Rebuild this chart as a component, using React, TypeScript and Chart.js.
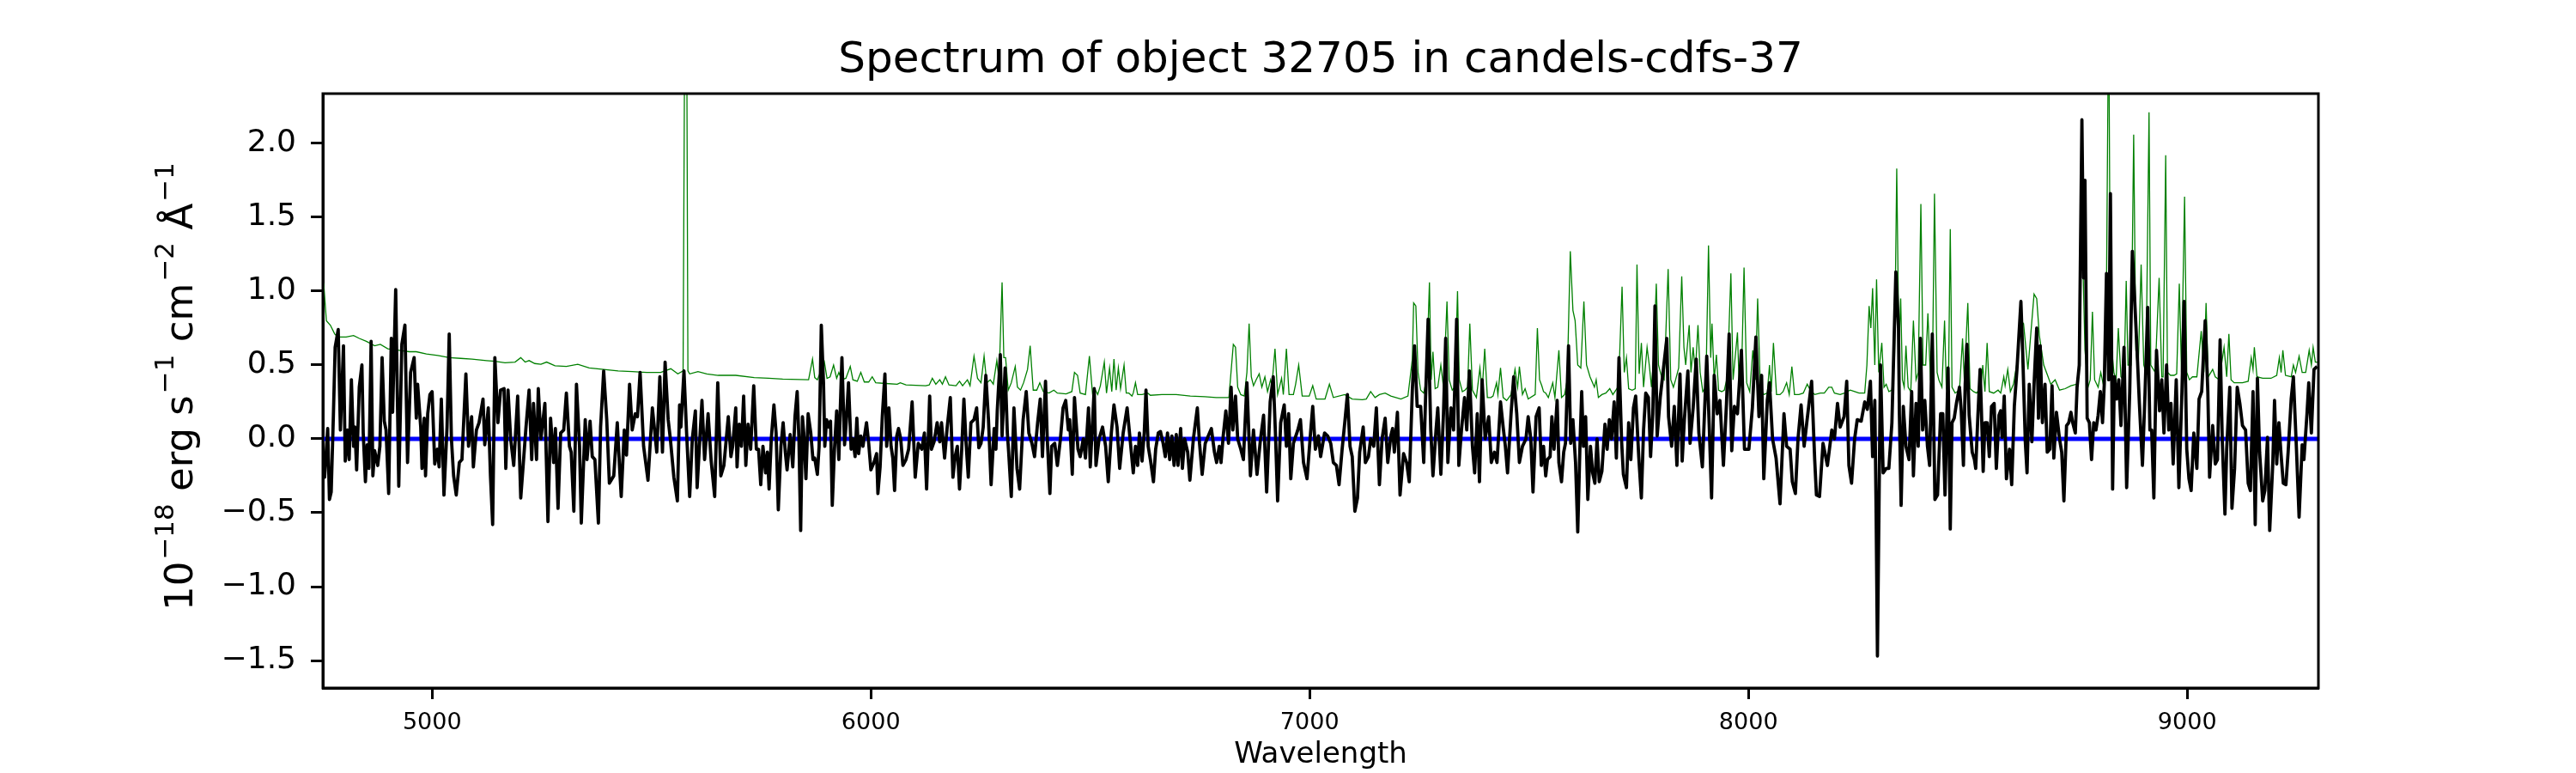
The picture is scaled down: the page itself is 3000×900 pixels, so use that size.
import { useEffect, useRef } from "react";
import { Chart, registerables } from "chart.js";

Chart.register(...registerables);

const titleText = "Spectrum of object 32705 in candels-cdfs-37";
const xLabel = "Wavelength";
// y label pieces: base text and superscripts
const yLabelParts = [
  { text: "10", sup: false },
  { text: "\u221218", sup: true },
  { text: " erg s", sup: false },
  { text: "\u22121", sup: true },
  { text: " cm", sup: false },
  { text: "\u22122", sup: true },
  { text: " \u00C5", sup: false },
  { text: "\u22121", sup: true },
];

const xTicks = [5000, 6000, 7000, 8000, 9000];
const yTicks = [-1.5, -1.0, -0.5, 0.0, 0.5, 1.0, 1.5, 2.0];
const waveRange = [4751, 9299];
const fluxRange = [-1.686, 2.337];

// extracted spectrum, [wavelength, flux]
const spectrum: [number, number][] = [
  [4751, -0.16], [4755, -0.26], [4762, 0.07], [4766, -0.41], [4770, -0.36], [4775, 0.16], [4779, 0.62], [4786, 0.74], [4791, 0.06], [4798, 0.63],
  [4802, -0.15], [4807, 0.06], [4811, -0.14], [4816, 0.4], [4821, -0.05], [4824, 0.08], [4828, -0.21], [4834, 0.35], [4840, 0.5], [4843, 0.04],
  [4848, -0.29], [4852, -0.04], [4856, -0.2], [4861, 0.66], [4865, -0.25], [4869, -0.08], [4876, -0.18], [4881, -0.05], [4886, 0.55], [4891, 0.12],
  [4895, 0.06], [4901, -0.37], [4907, 0.68], [4910, 0.18], [4917, 1.01], [4924, -0.32], [4931, 0.64], [4938, 0.77], [4944, -0.16], [4951, 0.45],
  [4959, 0.55], [4964, 0.14], [4967, 0.37], [4974, 0.08], [4977, -0.2], [4982, 0.14], [4985, -0.25], [4990, 0.17], [4995, 0.3], [5000, 0.32],
  [5006, -0.17], [5012, -0.07], [5016, -0.19], [5021, 0.27], [5027, -0.38], [5034, 0.08], [5039, 0.71], [5044, 0.0], [5049, -0.25], [5055, -0.38],
  [5062, -0.16], [5068, -0.14], [5077, 0.44], [5083, -0.05], [5090, 0.15], [5094, -0.19], [5101, 0.06], [5107, 0.11], [5116, 0.27], [5120, -0.04],
  [5128, 0.21], [5133, -0.25], [5138, -0.58], [5143, 0.55], [5150, 0.11], [5156, 0.33], [5164, 0.34], [5168, -0.2], [5173, 0.33], [5179, 0.0],
  [5186, -0.18], [5195, 0.29], [5202, -0.4], [5208, -0.16], [5214, 0.08], [5221, 0.33], [5227, -0.14], [5231, 0.24], [5238, -0.14], [5242, 0.34],
  [5248, 0.0], [5257, 0.24], [5264, -0.56], [5270, 0.14], [5277, -0.16], [5281, 0.07], [5287, -0.47], [5293, 0.04], [5300, 0.06], [5306, 0.31],
  [5313, -0.05], [5317, -0.09], [5323, -0.49], [5329, 0.37], [5336, -0.05], [5340, -0.57], [5349, 0.13], [5353, -0.14], [5360, 0.12], [5365, -0.12],
  [5371, -0.14], [5379, -0.57], [5384, 0.08], [5391, 0.46], [5398, 0.13], [5404, -0.3], [5414, -0.25], [5422, 0.11], [5427, -0.18], [5431, -0.39],
  [5438, 0.06], [5443, -0.11], [5450, 0.37], [5456, 0.06], [5463, 0.17], [5468, 0.15], [5474, 0.45], [5482, -0.05], [5492, -0.28], [5502, 0.21],
  [5512, -0.09], [5519, 0.42], [5525, -0.09], [5531, 0.52], [5538, 0.13], [5543, 0.0], [5551, -0.26], [5559, -0.42], [5564, 0.23], [5567, 0.08],
  [5574, 0.46], [5580, 0.04], [5587, -0.39], [5593, 0.0], [5600, 0.19], [5604, -0.33], [5615, 0.26], [5621, -0.14], [5629, 0.17], [5636, -0.15],
  [5644, -0.39], [5651, 0.38], [5658, -0.25], [5665, -0.18], [5675, 0.15], [5681, -0.12], [5685, -0.05], [5692, 0.21], [5695, -0.19], [5700, 0.1],
  [5705, -0.05], [5710, 0.29], [5715, -0.18], [5720, 0.1], [5726, -0.07], [5733, 0.36], [5739, -0.07], [5744, -0.07], [5749, -0.31], [5754, -0.05],
  [5760, -0.23], [5764, -0.09], [5768, -0.34], [5773, 0.0], [5779, 0.23], [5784, 0.04], [5789, -0.48], [5795, -0.05], [5800, 0.11], [5805, -0.09],
  [5809, -0.21], [5816, 0.03], [5822, -0.19], [5827, 0.15], [5832, 0.32], [5836, 0.0], [5840, -0.62], [5844, 0.15], [5847, 0.04], [5852, -0.27],
  [5857, 0.17], [5863, 0.04], [5868, -0.14], [5872, -0.13], [5878, -0.24], [5882, -0.05], [5887, 0.77], [5892, 0.38], [5895, -0.05], [5899, 0.13],
  [5904, 0.08], [5908, 0.12], [5912, -0.45], [5917, -0.07], [5922, 0.19], [5927, -0.14], [5930, 0.18], [5934, 0.55], [5940, -0.04], [5944, 0.12],
  [5949, 0.38], [5955, -0.07], [5959, 0.0], [5964, -0.12], [5968, 0.14], [5972, -0.1], [5977, 0.02], [5982, -0.05], [5990, 0.11], [5995, -0.03],
  [6000, -0.21], [6007, -0.16], [6013, -0.1], [6016, -0.37], [6021, -0.19], [6026, 0.15], [6032, 0.44], [6036, -0.05], [6041, 0.21], [6046, -0.05],
  [6050, -0.13], [6054, -0.35], [6059, 0.02], [6063, 0.07], [6068, 0.0], [6073, -0.18], [6080, -0.14], [6086, -0.07], [6094, 0.25], [6101, -0.26],
  [6108, -0.03], [6116, -0.07], [6122, 0.04], [6127, -0.34], [6134, 0.29], [6138, -0.07], [6144, -0.02], [6151, 0.11], [6157, -0.02], [6161, 0.11],
  [6168, -0.13], [6174, 0.08], [6181, 0.28], [6187, -0.26], [6192, -0.12], [6197, -0.05], [6202, -0.34], [6207, -0.07], [6212, 0.27], [6217, -0.03],
  [6222, -0.26], [6228, 0.11], [6235, 0.13], [6241, 0.21], [6246, -0.06], [6251, -0.03], [6256, 0.08], [6262, 0.43], [6268, 0.13], [6274, -0.31],
  [6281, 0.07], [6285, -0.07], [6288, 0.19], [6295, 0.57], [6299, 0.02], [6306, 0.48], [6311, 0.04], [6314, -0.09], [6320, -0.39], [6326, 0.21],
  [6333, -0.2], [6339, -0.34], [6347, 0.13], [6354, 0.32], [6360, 0.04], [6367, -0.03], [6373, -0.12], [6380, 0.11], [6386, 0.27], [6391, -0.12],
  [6398, 0.39], [6402, 0.0], [6408, -0.37], [6412, -0.05], [6419, -0.03], [6425, -0.18], [6432, 0.0], [6438, 0.21], [6444, 0.26], [6450, 0.06],
  [6453, 0.13], [6459, -0.24], [6464, 0.28], [6472, -0.07], [6477, -0.12], [6484, 0.0], [6489, -0.13], [6496, 0.21], [6500, -0.19], [6509, 0.34],
  [6513, -0.18], [6520, 0.0], [6528, 0.08], [6535, -0.05], [6541, -0.29], [6548, 0.04], [6554, 0.23], [6561, 0.08], [6567, -0.2], [6575, 0.04],
  [6584, 0.21], [6598, -0.23], [6603, -0.05], [6608, -0.18], [6612, 0.04], [6618, -0.15], [6623, 0.04], [6627, 0.33], [6632, -0.05], [6637, -0.14],
  [6644, -0.29], [6649, -0.07], [6655, 0.04], [6660, 0.05], [6666, -0.03], [6671, -0.12], [6676, 0.04], [6681, -0.14], [6686, 0.02], [6691, -0.18],
  [6696, 0.03], [6700, -0.18], [6706, 0.07], [6710, -0.2], [6715, 0.0], [6722, -0.09], [6727, -0.28], [6735, 0.0], [6744, 0.21], [6749, -0.03],
  [6755, -0.24], [6762, -0.03], [6769, 0.02], [6776, 0.07], [6783, -0.09], [6788, -0.16], [6794, -0.05], [6798, -0.16], [6803, 0.02], [6809, 0.19],
  [6815, -0.03], [6821, 0.35], [6825, 0.06], [6831, 0.29], [6836, 0.0], [6843, -0.07], [6849, -0.14], [6857, 0.38], [6865, -0.25], [6872, 0.06],
  [6880, -0.24], [6888, 0.0], [6895, 0.16], [6902, -0.36], [6910, 0.25], [6917, 0.42], [6922, 0.04], [6927, -0.42], [6934, 0.11], [6942, 0.23],
  [6947, -0.05], [6952, 0.17], [6957, -0.27], [6963, -0.03], [6973, 0.06], [6979, 0.13], [6986, -0.16], [6994, -0.27], [7002, 0.04], [7007, 0.22],
  [7013, -0.07], [7020, 0.02], [7025, -0.12], [7034, 0.04], [7041, 0.02], [7048, -0.03], [7054, -0.16], [7061, -0.18], [7067, -0.31], [7074, -0.07],
  [7080, 0.11], [7086, 0.3], [7092, -0.05], [7097, -0.12], [7103, -0.49], [7109, -0.4], [7114, -0.09], [7122, 0.08], [7127, -0.16], [7134, -0.12],
  [7139, 0.0], [7146, -0.05], [7152, 0.21], [7159, -0.31], [7165, 0.0], [7172, 0.14], [7178, -0.16], [7185, 0.02], [7189, 0.07], [7193, -0.09],
  [7200, 0.18], [7206, -0.38], [7214, -0.1], [7221, -0.16], [7227, -0.29], [7234, 0.33], [7239, 0.63], [7245, 0.22], [7253, 0.22], [7260, -0.16],
  [7264, 0.26], [7270, 0.81], [7276, 0.06], [7281, -0.25], [7288, 0.06], [7292, 0.21], [7299, -0.24], [7305, 0.17], [7310, 0.68], [7315, -0.16],
  [7322, 0.21], [7328, 0.06], [7335, 0.81], [7340, -0.18], [7346, 0.06], [7353, 0.28], [7358, 0.06], [7364, 0.46], [7371, -0.05], [7376, -0.23],
  [7382, 0.17], [7387, -0.29], [7393, 0.4], [7400, 0.0], [7408, 0.15], [7414, -0.16], [7421, -0.09], [7427, -0.16], [7435, 0.25], [7441, 0.08],
  [7446, -0.05], [7451, -0.23], [7459, 0.17], [7465, 0.42], [7472, 0.17], [7478, -0.16], [7485, -0.05], [7493, 0.0], [7498, 0.15], [7504, 0.0],
  [7509, -0.36], [7516, 0.15], [7523, 0.21], [7528, -0.18], [7533, -0.05], [7538, -0.25], [7542, -0.14], [7548, -0.12], [7552, 0.15], [7557, -0.07],
  [7564, 0.26], [7568, -0.16], [7574, -0.29], [7579, -0.09], [7583, -0.03], [7590, 0.63], [7595, -0.03], [7600, 0.13], [7606, -0.16], [7611, -0.63],
  [7616, -0.05], [7620, 0.32], [7624, -0.05], [7629, 0.15], [7634, -0.41], [7640, -0.05], [7645, -0.23], [7650, -0.3], [7655, 0.0], [7660, -0.29],
  [7666, -0.22], [7673, 0.1], [7678, -0.07], [7683, 0.13], [7688, 0.0], [7694, 0.25], [7699, -0.13], [7705, 0.55], [7711, -0.02], [7715, -0.24],
  [7722, -0.33], [7727, 0.11], [7732, -0.14], [7738, 0.21], [7743, 0.29], [7750, -0.12], [7756, -0.4], [7761, 0.06], [7766, 0.31], [7772, 0.28],
  [7777, -0.12], [7782, 0.17], [7787, 0.9], [7792, 0.02], [7799, 0.28], [7805, 0.44], [7814, 0.68], [7818, 0.15], [7825, -0.05], [7831, 0.22],
  [7837, -0.18], [7844, 0.44], [7849, -0.15], [7854, 0.13], [7862, 0.46], [7867, -0.03], [7874, 0.21], [7881, 0.54], [7887, 0.04], [7895, -0.19],
  [7905, 0.56], [7911, 0.06], [7916, -0.4], [7922, 0.43], [7929, 0.17], [7935, 0.26], [7943, -0.18], [7950, 0.24], [7956, 0.71], [7962, -0.08],
  [7968, 0.22], [7975, 0.17], [7984, 0.6], [7991, -0.07], [8001, -0.07], [8009, 0.21], [8017, 0.69], [8024, 0.15], [8030, 0.43], [8035, -0.27],
  [8043, 0.26], [8048, 0.38], [8055, 0.0], [8063, -0.13], [8072, -0.44], [8081, 0.17], [8087, -0.05], [8095, -0.07], [8100, -0.29], [8107, -0.37],
  [8113, 0.0], [8120, 0.23], [8127, -0.05], [8133, 0.11], [8144, 0.39], [8151, -0.14], [8155, -0.38], [8162, -0.39], [8170, -0.03], [8180, -0.18],
  [8190, 0.06], [8196, 0.0], [8203, 0.24], [8209, 0.08], [8218, 0.15], [8224, 0.39], [8229, -0.18], [8235, -0.3], [8242, 0.0], [8248, 0.13],
  [8257, 0.12], [8265, 0.25], [8271, 0.2], [8278, 0.39], [8283, -0.12], [8288, 0.26], [8291, -0.49], [8294, -1.47], [8299, -0.05], [8301, 0.5],
  [8307, -0.23], [8314, -0.2], [8320, -0.2], [8327, 0.11], [8336, 1.13], [8342, 0.75], [8344, 0.17], [8348, -0.45], [8353, 0.22], [8359, -0.05],
  [8366, -0.14], [8372, 0.32], [8376, -0.25], [8382, 0.24], [8387, -0.05], [8392, 0.68], [8397, 0.06], [8402, 0.26], [8408, -0.05], [8413, -0.18],
  [8419, 0.71], [8425, -0.41], [8431, -0.38], [8438, 0.17], [8443, 0.17], [8448, -0.38], [8451, 0.0], [8455, 0.48], [8460, -0.61], [8464, 0.11],
  [8469, 0.14], [8474, 0.24], [8481, 0.35], [8485, 0.19], [8490, -0.18], [8494, 0.37], [8498, 0.64], [8503, 0.16], [8510, -0.09], [8515, -0.14],
  [8518, -0.2], [8523, 0.16], [8528, 0.47], [8531, 0.19], [8535, -0.22], [8539, 0.11], [8544, 0.11], [8549, -0.12], [8554, 0.22], [8560, 0.24],
  [8565, -0.2], [8571, 0.16], [8575, 0.19], [8578, 0.01], [8583, 0.29], [8588, -0.27], [8595, -0.07], [8600, -0.31], [8606, 0.22], [8612, 0.47],
  [8621, 0.93], [8625, 0.59], [8631, -0.02], [8635, -0.23], [8640, 0.37], [8646, -0.02], [8651, 0.37], [8657, 0.75], [8661, 0.14], [8665, 0.63],
  [8670, 0.11], [8676, 0.37], [8681, -0.09], [8687, -0.07], [8692, 0.36], [8696, -0.13], [8702, 0.18], [8709, 0.0], [8714, -0.09], [8719, -0.42],
  [8725, 0.09], [8730, 0.11], [8735, 0.18], [8739, 0.11], [8745, 0.04], [8749, 0.35], [8754, 0.5], [8760, 2.16], [8764, 1.09], [8767, 1.75],
  [8772, 0.14], [8777, 0.11], [8782, -0.14], [8787, 0.11], [8792, 0.06], [8797, 0.16], [8802, 0.32], [8807, 0.11], [8811, 0.37], [8816, 1.12],
  [8821, 0.4], [8825, 1.66], [8830, -0.34], [8834, 0.42], [8839, 0.27], [8844, 0.4], [8849, 0.09], [8856, 0.62], [8862, -0.33], [8869, 0.32],
  [8875, 1.27], [8880, 0.96], [8886, 0.58], [8891, 0.24], [8898, -0.18], [8904, 0.32], [8910, 0.89], [8915, 0.06], [8919, 0.06], [8924, -0.4],
  [8930, 0.6], [8937, 0.19], [8942, 0.4], [8947, 0.04], [8953, 0.5], [8958, 0.06], [8963, 0.24], [8968, -0.17], [8975, 0.4], [8981, -0.33],
  [8988, 0.32], [8993, 0.93], [8999, -0.07], [9004, -0.27], [9009, -0.35], [9015, 0.04], [9022, -0.2], [9027, 0.27], [9033, 0.32], [9041, 0.8],
  [9047, 0.32], [9051, -0.26], [9058, 0.09], [9064, -0.17], [9069, -0.14], [9075, 0.67], [9080, -0.02], [9086, -0.51], [9090, -0.07], [9097, 0.35],
  [9102, -0.47], [9108, -0.2], [9114, 0.35], [9120, 0.24], [9126, 0.09], [9133, 0.06], [9139, -0.3], [9144, -0.35], [9150, 0.32], [9155, -0.58],
  [9160, 0.41], [9165, -0.09], [9172, -0.42], [9177, -0.35], [9183, 0.01], [9188, -0.62], [9195, -0.17], [9199, 0.26], [9204, -0.17], [9209, 0.11],
  [9214, -0.11], [9219, -0.3], [9225, -0.31], [9230, -0.09], [9237, 0.27], [9242, 0.42], [9249, -0.07], [9255, -0.53], [9262, -0.04], [9266, -0.14],
  [9273, 0.17], [9277, 0.38], [9283, 0.04], [9289, 0.47], [9296, 0.49],
];

// noise / sky spectrum, [wavelength, flux]
const noise: [number, number][] = [
  [4751, 1.06], [4753, 1.05], [4759, 0.8], [4768, 0.77], [4778, 0.71], [4785, 0.69], [4804, 0.69], [4821, 0.7], [4834, 0.68], [4850, 0.66],
  [4869, 0.63], [4882, 0.64], [4899, 0.61], [4925, 0.6], [4948, 0.59], [4964, 0.59], [4987, 0.575], [5013, 0.565], [5039, 0.55], [5065, 0.545],
  [5091, 0.54], [5124, 0.53], [5143, 0.525], [5166, 0.515], [5189, 0.52], [5202, 0.55], [5212, 0.52], [5221, 0.53], [5234, 0.51], [5248, 0.505],
  [5261, 0.52], [5280, 0.495], [5306, 0.49], [5332, 0.505], [5358, 0.48], [5391, 0.47], [5424, 0.46], [5456, 0.455], [5489, 0.45], [5521, 0.45],
  [5544, 0.475], [5560, 0.44], [5572, 0.46], [5576, 3.0], [5580, 3.0], [5583, 0.46], [5587, 0.44], [5606, 0.455], [5626, 0.44], [5652, 0.43],
  [5669, 0.43], [5692, 0.43], [5734, 0.415], [5767, 0.41], [5799, 0.405], [5858, 0.4], [5867, 0.54], [5872, 0.415], [5878, 0.4], [5894, 0.52],
  [5900, 0.41], [5907, 0.42], [5915, 0.5], [5922, 0.41], [5927, 0.45], [5933, 0.4], [5943, 0.41], [5953, 0.49], [5959, 0.4], [5969, 0.39],
  [5977, 0.45], [5985, 0.385], [5995, 0.385], [6003, 0.42], [6011, 0.38], [6034, 0.375], [6060, 0.37], [6067, 0.38], [6080, 0.365], [6125, 0.36],
  [6133, 0.365], [6140, 0.41], [6148, 0.37], [6157, 0.4], [6163, 0.37], [6170, 0.42], [6178, 0.365], [6194, 0.36], [6202, 0.39], [6209, 0.36],
  [6220, 0.4], [6226, 0.36], [6235, 0.56], [6243, 0.41], [6251, 0.38], [6258, 0.56], [6264, 0.38], [6272, 0.4], [6279, 0.37], [6287, 0.53],
  [6292, 0.4], [6299, 1.06], [6303, 0.55], [6307, 0.55], [6313, 0.33], [6320, 0.38], [6329, 0.49], [6334, 0.35], [6341, 0.33], [6348, 0.38],
  [6357, 0.47], [6363, 0.63], [6370, 0.33], [6378, 0.33], [6385, 0.38], [6393, 0.32], [6406, 0.31], [6417, 0.33], [6425, 0.31], [6445, 0.305],
  [6458, 0.32], [6464, 0.45], [6471, 0.43], [6477, 0.31], [6489, 0.3], [6498, 0.56], [6505, 0.31], [6510, 0.34], [6517, 0.3], [6523, 0.36],
  [6532, 0.52], [6537, 0.31], [6544, 0.48], [6549, 0.32], [6554, 0.54], [6559, 0.33], [6564, 0.48], [6569, 0.34], [6577, 0.5], [6582, 0.31],
  [6588, 0.31], [6595, 0.29], [6598, 0.31], [6603, 0.38], [6608, 0.3], [6618, 0.3], [6631, 0.31], [6637, 0.295], [6663, 0.3], [6696, 0.3],
  [6728, 0.29], [6761, 0.285], [6787, 0.28], [6816, 0.28], [6826, 0.64], [6831, 0.62], [6836, 0.35], [6843, 0.3], [6851, 0.29], [6857, 0.45],
  [6862, 0.78], [6867, 0.42], [6872, 0.36], [6878, 0.4], [6885, 0.44], [6891, 0.35], [6898, 0.42], [6904, 0.32], [6911, 0.4], [6914, 0.36],
  [6921, 0.61], [6927, 0.3], [6936, 0.41], [6940, 0.3], [6947, 0.61], [6953, 0.3], [6963, 0.3], [6968, 0.37], [6975, 0.5], [6983, 0.29],
  [6999, 0.29], [7007, 0.36], [7015, 0.27], [7035, 0.27], [7045, 0.37], [7054, 0.28], [7080, 0.3], [7097, 0.27], [7120, 0.265], [7129, 0.27],
  [7139, 0.32], [7149, 0.28], [7159, 0.3], [7172, 0.31], [7185, 0.29], [7208, 0.27], [7224, 0.29], [7234, 0.54], [7237, 0.92], [7242, 0.9],
  [7247, 0.45], [7253, 0.33], [7260, 0.31], [7266, 0.4], [7273, 1.06], [7277, 0.4], [7281, 0.59], [7286, 0.34], [7292, 0.35], [7299, 0.5],
  [7305, 0.35], [7313, 0.93], [7318, 0.4], [7325, 0.33], [7331, 0.35], [7337, 1.0], [7341, 0.4], [7348, 0.32], [7354, 0.33], [7360, 0.35],
  [7365, 0.78], [7371, 0.33], [7380, 0.28], [7388, 0.48], [7393, 0.32], [7399, 0.61], [7405, 0.28], [7413, 0.28], [7418, 0.29], [7426, 0.38],
  [7429, 0.3], [7435, 0.48], [7441, 0.28], [7449, 0.26], [7459, 0.3], [7468, 0.47], [7474, 0.35], [7478, 0.49], [7485, 0.3], [7491, 0.34],
  [7498, 0.27], [7514, 0.3], [7519, 0.75], [7524, 0.4], [7529, 0.36], [7533, 0.32], [7538, 0.31], [7544, 0.28], [7554, 0.38], [7559, 0.28],
  [7568, 0.6], [7574, 0.28], [7581, 0.3], [7587, 0.4], [7594, 1.27], [7600, 0.87], [7605, 0.8], [7611, 0.5], [7618, 0.48], [7625, 0.93],
  [7631, 0.5], [7639, 0.42], [7649, 0.35], [7653, 0.4], [7658, 0.28], [7666, 0.3], [7675, 0.31], [7684, 0.34], [7691, 0.3], [7698, 0.33],
  [7704, 0.36], [7712, 1.03], [7717, 0.45], [7722, 0.55], [7727, 0.34], [7735, 0.33], [7742, 0.34], [7746, 1.18], [7751, 0.44], [7756, 0.65],
  [7761, 0.35], [7769, 0.62], [7774, 0.5], [7779, 0.35], [7784, 0.55], [7790, 1.05], [7795, 0.5], [7802, 0.42], [7808, 0.4], [7817, 1.15],
  [7823, 0.4], [7829, 0.35], [7834, 0.4], [7841, 0.48], [7848, 1.1], [7853, 0.62], [7857, 0.5], [7865, 0.77], [7869, 0.45], [7874, 0.62],
  [7879, 0.45], [7885, 0.77], [7890, 0.45], [7896, 0.32], [7903, 0.35], [7909, 1.31], [7914, 0.55], [7917, 0.78], [7922, 0.4], [7927, 0.57],
  [7932, 0.33], [7939, 0.32], [7945, 0.33], [7952, 0.42], [7960, 1.12], [7965, 0.4], [7975, 0.72], [7979, 0.35], [7984, 0.4], [7990, 1.16],
  [7996, 0.38], [8003, 0.32], [8010, 0.6], [8016, 0.4], [8021, 0.95], [8027, 0.35], [8035, 0.3], [8043, 0.31], [8048, 0.5], [8052, 0.32],
  [8057, 0.65], [8064, 0.3], [8072, 0.3], [8079, 0.32], [8087, 0.38], [8093, 0.3], [8099, 0.49], [8105, 0.3], [8115, 0.3], [8125, 0.31],
  [8134, 0.37], [8141, 0.33], [8151, 0.3], [8164, 0.31], [8173, 0.31], [8183, 0.35], [8190, 0.35], [8196, 0.31], [8209, 0.3], [8219, 0.31],
  [8232, 0.33], [8242, 0.32], [8252, 0.31], [8265, 0.31], [8270, 0.5], [8275, 0.9], [8279, 0.75], [8283, 1.02], [8288, 0.5], [8292, 1.08],
  [8297, 0.45], [8304, 0.65], [8309, 0.35], [8314, 0.37], [8320, 0.32], [8327, 0.33], [8333, 0.55], [8338, 1.83], [8343, 0.6], [8347, 0.95],
  [8351, 0.4], [8355, 0.35], [8359, 0.63], [8364, 0.35], [8370, 0.32], [8376, 0.8], [8382, 0.4], [8387, 0.45], [8393, 1.59], [8398, 0.5],
  [8404, 0.5], [8409, 0.85], [8415, 0.4], [8419, 0.35], [8424, 1.66], [8430, 0.45], [8434, 0.4], [8441, 0.35], [8447, 0.8], [8451, 0.35],
  [8456, 0.4], [8460, 1.42], [8464, 0.35], [8471, 0.31], [8481, 0.33], [8488, 0.68], [8492, 0.4], [8500, 0.92], [8505, 0.34], [8513, 0.32],
  [8520, 0.31], [8530, 0.35], [8534, 0.5], [8539, 0.32], [8544, 0.65], [8549, 0.32], [8559, 0.31], [8569, 0.33], [8575, 0.31], [8582, 0.42],
  [8585, 0.36], [8591, 0.47], [8597, 0.32], [8604, 0.37], [8614, 0.55], [8621, 0.8], [8627, 0.78], [8637, 0.47], [8646, 0.8], [8651, 0.98],
  [8657, 0.95], [8663, 0.7], [8673, 0.5], [8683, 0.42], [8689, 0.37], [8699, 0.4], [8709, 0.33], [8722, 0.34], [8735, 0.36], [8748, 0.37],
  [8754, 0.5], [8760, 1.6], [8763, 1.1], [8767, 0.6], [8774, 0.35], [8779, 0.4], [8784, 0.86], [8789, 0.4], [8797, 0.35], [8803, 0.45],
  [8810, 0.35], [8816, 1.0], [8821, 3.0], [8825, 0.7], [8833, 0.45], [8838, 0.4], [8843, 0.75], [8849, 0.42], [8856, 0.4], [8861, 1.07],
  [8865, 0.5], [8872, 0.5], [8878, 2.06], [8883, 0.6], [8888, 0.45], [8895, 1.18], [8901, 0.5], [8906, 0.45], [8913, 2.21], [8917, 0.5],
  [8927, 0.45], [8936, 1.09], [8942, 0.42], [8945, 0.42], [8951, 1.92], [8955, 0.45], [8962, 0.43], [8970, 0.43], [8976, 0.44], [8982, 1.05],
  [8987, 0.45], [8994, 1.64], [8999, 0.45], [9005, 0.4], [9012, 0.42], [9022, 0.42], [9032, 0.73], [9038, 0.45], [9043, 0.92], [9048, 0.42],
  [9058, 0.47], [9064, 0.42], [9073, 0.4], [9084, 0.62], [9090, 0.42], [9095, 0.71], [9100, 0.4], [9107, 0.38], [9126, 0.38], [9139, 0.39],
  [9146, 0.55], [9150, 0.47], [9153, 0.62], [9159, 0.42], [9172, 0.41], [9191, 0.41], [9204, 0.43], [9210, 0.55], [9214, 0.45], [9218, 0.6],
  [9224, 0.43], [9237, 0.42], [9242, 0.5], [9247, 0.45], [9255, 0.56], [9262, 0.45], [9270, 0.45], [9278, 0.6], [9283, 0.5], [9287, 0.62],
  [9292, 0.52], [9299, 0.52],
];

// zero level
const zeroLevel: [number, number][] = [
  [4751, 0],
  [9299, 0],
];

const toXY = (pts: [number, number][]) => pts.map(([x, y]) => ({ x, y }));
const fmtMinus = (v: number) => v.toFixed(1).replace("-", "\u2212");

// matplotlib-style box around the axes
const framePlugin = {
  id: "frame",
  afterDraw(chart: Chart) {
    const { ctx, chartArea } = chart;
    const { left, top, right, bottom } = chartArea;
    ctx.save();
    ctx.strokeStyle = "#000";
    ctx.lineWidth = 3;
    ctx.strokeRect(left, top, right - left, bottom - top);
    ctx.restore();
  },
};

// rotated y-axis label with raised exponents
const yLabelPlugin = {
  id: "yLabel",
  afterDraw(chart: Chart) {
    const { ctx, chartArea } = chart;
    const baseFont = "45px 'DejaVu Sans', sans-serif";
    const supFont = "31px 'DejaVu Sans', sans-serif";
    ctx.save();
    ctx.fillStyle = "#000";
    ctx.textBaseline = "alphabetic";
    ctx.textAlign = "left";
    const widths = yLabelParts.map((p) => {
      ctx.font = p.sup ? supFont : baseFont;
      return ctx.measureText(p.text).width + (p.sup ? 2 : 0);
    });
    const total = widths.reduce((a, b) => a + b, 0);
    ctx.translate(224, (chartArea.top + chartArea.bottom) / 2 - 5);
    ctx.rotate(-Math.PI / 2);
    let x = -total / 2;
    yLabelParts.forEach((p, i) => {
      ctx.font = p.sup ? supFont : baseFont;
      ctx.fillText(p.text, x + (p.sup ? 2 : 0), p.sup ? -22 : 0);
      x += widths[i];
    });
    ctx.restore();
  },
};

const SpectrumChart = () => {
  const canvasRef = useRef<HTMLCanvasElement | null>(null);
  const chartRef = useRef<Chart | null>(null);

  useEffect(() => {
    document.body.style.margin = "0";
    if (!canvasRef.current) return;
    const ctx = canvasRef.current.getContext("2d");
    if (!ctx) return;

    Chart.defaults.font.family = "'DejaVu Sans', sans-serif";
    Chart.defaults.color = "#000";

    chartRef.current = new Chart(ctx, {
      type: "line",
      data: {
        datasets: [
          {
            label: "flux",
            data: toXY(spectrum),
            borderColor: "#000000",
            borderWidth: 3.8,
            pointRadius: 0,
            tension: 0,
            borderJoinStyle: "round",
            clip: 0,
            order: 0,
          },
          {
            label: "noise",
            data: toXY(noise),
            borderColor: "#008000",
            borderWidth: 1.3,
            pointRadius: 0,
            tension: 0,
            clip: 0,
            order: 1,
          },
          {
            label: "zero",
            data: toXY(zeroLevel),
            borderColor: "#0000ff",
            borderWidth: 5,
            pointRadius: 0,
            clip: 0,
            order: 2,
          },
        ],
      },
      options: {
        responsive: false,
        animation: false,
        devicePixelRatio: 1,
        layout: { padding: { left: 0, right: 300, top: 0, bottom: 0 } },
        plugins: {
          legend: { display: false },
          tooltip: { enabled: false },
          title: {
            display: true,
            text: titleText,
            fullSize: false,
            font: { size: 50, weight: "normal", lineHeight: 1.2 },
            color: "#000",
            padding: { top: 41, bottom: 8 },
          },
        },
        scales: {
          x: {
            type: "linear",
            min: waveRange[0],
            max: waveRange[1],
            afterFit: (scale: any) => {
              scale.height = 99;
            },
            afterBuildTicks: (axis: any) => {
              axis.ticks = xTicks.map((value) => ({ value }));
            },
            ticks: {
              font: { size: 27, lineHeight: 1.2 },
              color: "#000",
              padding: 12,
              maxRotation: 0,
              autoSkip: false,
              callback: (v: any) => String(v),
            },
            grid: {
              display: true,
              drawOnChartArea: false,
              drawTicks: true,
              tickLength: 13,
              tickWidth: 3,
              tickColor: "#000",
              color: "#000",
            },
            border: { display: true, color: "#000", width: 3 },
            title: {
              display: true,
              text: xLabel,
              font: { size: 34, lineHeight: 1.2 },
              color: "#000",
              padding: { top: 0, bottom: 0 },
            },
          },
          y: {
            type: "linear",
            min: fluxRange[0],
            max: fluxRange[1],
            afterFit: (scale: any) => {
              scale.width = 376;
            },
            afterBuildTicks: (axis: any) => {
              axis.ticks = yTicks.map((value) => ({ value }));
            },
            ticks: {
              font: { size: 36, lineHeight: 1.2 },
              color: "#000",
              padding: 17,
              autoSkip: false,
              callback: (v: any) => fmtMinus(Number(v)),
            },
            grid: {
              display: true,
              drawOnChartArea: false,
              drawTicks: true,
              tickLength: 14,
              tickWidth: 3,
              tickColor: "#000",
              color: "#000",
            },
            border: { display: true, color: "#000", width: 3 },
            title: { display: false },
          },
        },
      },
      plugins: [framePlugin, yLabelPlugin],
    });

    return () => {
      chartRef.current?.destroy();
    };
  }, []);

  return (
    <div style={{ width: 3000, height: 900 }}>
      <canvas ref={canvasRef} width={3000} height={900} style={{ width: 3000, height: 900 }} />
    </div>
  );
};

export default function App() {
  return <SpectrumChart />;
}
